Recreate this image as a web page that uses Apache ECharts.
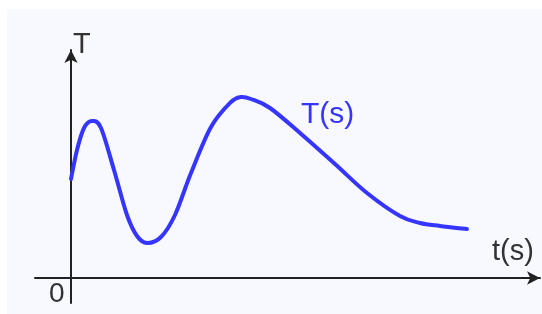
<!DOCTYPE html>
<html>
<head>
<meta charset="utf-8">
<script src="https://cdn.jsdelivr.net/npm/echarts@6/dist/echarts.min.js"></script>
<style>
  html, body { margin: 0; padding: 0; background: #fff; }
  #chart { width: 542px; height: 314px; }
</style>
</head>
<body>
<div id="chart"></div>
<script>
// curve: time t and value T (arbitrary units)
const tValues = [0, 6, 13, 21, 30, 43, 56, 66, 76, 90, 104, 120, 140, 160, 170, 180, 199, 229, 264, 296, 329, 349, 369, 396]
const TValues = [99, 128, 150, 157, 150, 108, 63, 42, 35, 41, 63, 105, 151, 176, 181, 179, 170, 145, 114, 85, 62, 55, 52, 49]

const axisColor = '#222'
const curveColor = '#3535ff'
const labelFont = '"Liberation Sans", Arial, sans-serif'

const chart = echarts.init(document.getElementById('chart'))

// smooth curve through all points (catmull-rom -> bezier), positions from the axes
function renderCurve(params, api) {
  if (params.dataIndex !== 0) return
  const pts = tValues.map((t, i) => api.coord([t, TValues[i]]))
  let d = 'M' + pts[0][0] + ',' + pts[0][1]
  for (let i = 0; i < pts.length - 1; i++) {
    const p0 = pts[Math.max(i - 1, 0)]
    const p1 = pts[i]
    const p2 = pts[i + 1]
    const p3 = pts[Math.min(i + 2, pts.length - 1)]
    const c1x = p1[0] + (p2[0] - p0[0]) / 6
    const c1y = p1[1] + (p2[1] - p0[1]) / 6
    const c2x = p2[0] - (p3[0] - p1[0]) / 6
    const c2y = p2[1] - (p3[1] - p1[1]) / 6
    d += ' C' + c1x + ',' + c1y + ' ' + c2x + ',' + c2y + ' ' + p2[0] + ',' + p2[1]
  }
  return {
    type: 'path',
    shape: { pathData: d },
    style: { fill: null, stroke: curveColor, lineWidth: 4, lineJoin: 'round', lineCap: 'round' }
  }
}

chart.setOption({
  backgroundColor: '#fff',
  animation: false,
  graphic: [
    { type: 'rect', z: -10, silent: true,
      shape: { x: 7, y: 9, width: 535, height: 305 },
      style: { fill: '#f8f8ff' } },
    { type: 'text', left: 73, top: 30,
      style: { text: 'T', font: '29px ' + labelFont, fill: '#333' } },
    { type: 'text', left: 49, top: 280,
      style: { text: '0', font: '28px ' + labelFont, fill: '#333' } },
    { type: 'text', left: 492, top: 237,
      style: { text: 't(s)', font: '29px ' + labelFont, fill: '#333' } },
    { type: 'text', left: 301, top: 100,
      style: { text: 'T(s)', font: '30px ' + labelFont, fill: curveColor } }
  ],
  grid: { left: 35, right: 2, top: 50, bottom: 11 },
  xAxis: {
    type: 'value',
    min: -36,
    max: 469,
    axisLine: {
      onZero: true,
      symbol: ['none', 'arrow'],
      symbolSize: [10, 13],
      lineStyle: { color: axisColor, width: 2 }
    },
    axisTick: { show: false },
    axisLabel: { show: false },
    splitLine: { show: false }
  },
  yAxis: {
    type: 'value',
    min: -25,
    max: 228,
    axisLine: {
      show: true,
      onZero: true,
      symbol: ['none', 'arrow'],
      symbolSize: [10, 13],
      lineStyle: { color: axisColor, width: 2 }
    },
    axisTick: { show: false },
    axisLabel: { show: false },
    splitLine: { show: false }
  },
  series: [{
    type: 'custom',
    renderItem: renderCurve,
    data: tValues.map((t, i) => [t, TValues[i]]),
    encode: { x: 0, y: 1 }
  }]
})
</script>
</body>
</html>
